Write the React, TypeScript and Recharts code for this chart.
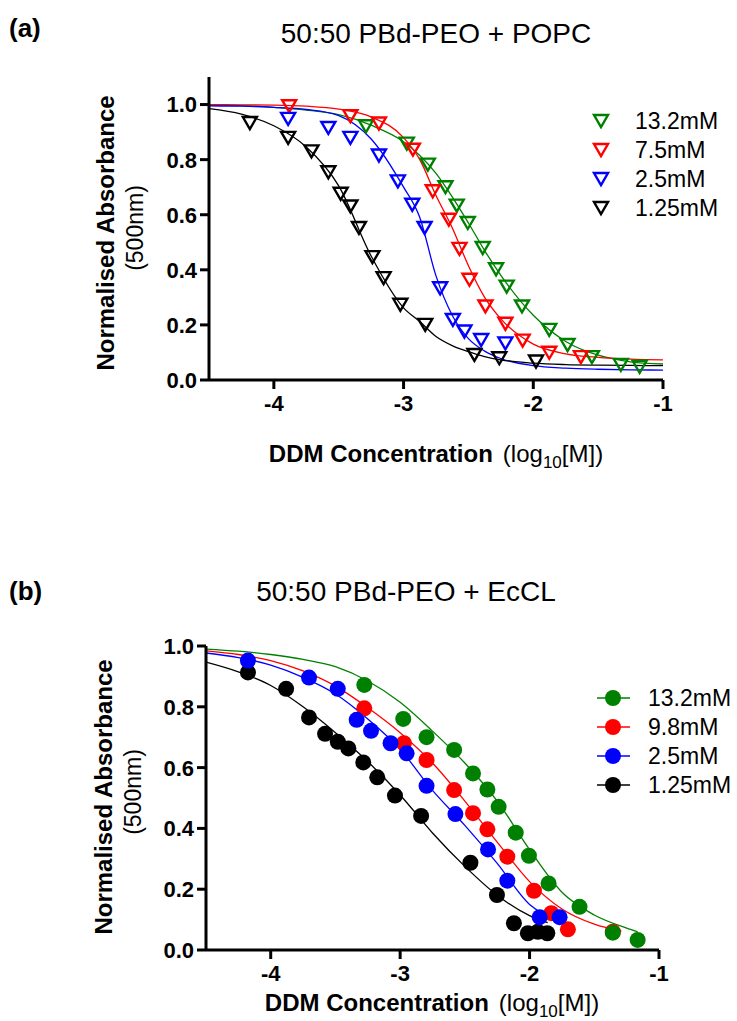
import React from "react";
import { ComposedChart, Line, Scatter, XAxis, YAxis } from "recharts";

const FONT = "'Liberation Sans', Arial, Helvetica, sans-serif";

const GREEN = "#008000";
const RED = "#ff0000";
const BLUE = "#0000ff";
const BLACK = "#000000";

const xTicks = [-4, -3, -2, -1];
const yTicks = [0, 0.2, 0.4, 0.6, 0.8, 1.0];

// ---- panel (a): 50:50 PBd-PEO + POPC, x = log10[DDM] ----
const popc132X = [-3.29, -2.975, -2.813, -2.677, -2.59, -2.505, -2.39, -2.287, -2.205, -2.087, -1.877, -1.736, -1.548, -1.325, -1.18];
const popc132Y = [0.921, 0.858, 0.782, 0.7, 0.633, 0.57, 0.479, 0.402, 0.339, 0.267, 0.182, 0.127, 0.083, 0.055, 0.048];
const popc75X = [-3.882, -3.41, -3.19, -2.928, -2.775, -2.651, -2.569, -2.492, -2.369, -2.215, -2.082, -1.877, -1.633];
const popc75Y = [0.994, 0.958, 0.931, 0.836, 0.685, 0.582, 0.476, 0.364, 0.267, 0.204, 0.143, 0.099, 0.083];
const popc25X = [-3.89, -3.58, -3.41, -3.19, -3.044, -2.933, -2.838, -2.718, -2.62, -2.531, -2.402, -2.215];
const popc25Y = [0.948, 0.915, 0.879, 0.815, 0.721, 0.636, 0.552, 0.333, 0.218, 0.176, 0.145, 0.133];
const popc125X = [-4.185, -3.89, -3.71, -3.58, -3.485, -3.41, -3.344, -3.24, -3.154, -3.025, -2.833, -2.454, -2.262, -1.979];
const popc125Y = [0.933, 0.879, 0.83, 0.754, 0.676, 0.63, 0.552, 0.446, 0.37, 0.273, 0.2, 0.091, 0.079, 0.067];

// fitted curves
const fitAX = [-4.5, -4.25, -4, -3.75, -3.5, -3.25, -3, -2.875, -2.75, -2.625, -2.5, -2.375, -2.25, -2, -1.75, -1.5, -1.25, -1];
const fitA132 = [0.998, 0.996, 0.99, 0.98, 0.963, 0.925, 0.865, 0.815, 0.75, 0.665, 0.57, 0.47, 0.38, 0.235, 0.14, 0.09, 0.066, 0.058];
const fitA75 = [1.0, 0.999, 0.998, 0.994, 0.983, 0.955, 0.88, 0.8, 0.67, 0.553, 0.415, 0.3, 0.222, 0.13, 0.095, 0.082, 0.076, 0.073];
const fitA25 = [0.995, 0.994, 0.99, 0.982, 0.96, 0.875, 0.7, 0.59, 0.378, 0.235, 0.15, 0.105, 0.078, 0.052, 0.043, 0.039, 0.037, 0.036];
const fitA125 = [0.985, 0.965, 0.923, 0.846, 0.705, 0.45, 0.262, 0.212, 0.158, 0.125, 0.103, 0.085, 0.073, 0.061, 0.056, 0.054, 0.053, 0.052];

// ---- panel (b): 50:50 PBd-PEO + EcCL ----
const eccl132X = [-3.277, -2.976, -2.796, -2.583, -2.437, -2.326, -2.239, -2.107, -2.005, -1.853, -1.614, -1.357, -1.165];
const eccl132Y = [0.872, 0.76, 0.7, 0.658, 0.581, 0.528, 0.471, 0.386, 0.31, 0.219, 0.142, 0.057, 0.033];
const eccl98X = [-3.277, -2.971, -2.796, -2.583, -2.437, -2.326, -2.172, -1.966, -1.832, -1.704, -1.357];
const eccl98Y = [0.795, 0.68, 0.625, 0.526, 0.45, 0.397, 0.307, 0.195, 0.121, 0.068, 0.06];
const eccl25X = [-4.176, -3.704, -3.482, -3.336, -3.225, -3.074, -2.95, -2.796, -2.573, -2.321, -2.172, -1.922, -1.768];
const eccl25Y = [0.952, 0.896, 0.859, 0.757, 0.721, 0.68, 0.647, 0.54, 0.447, 0.331, 0.228, 0.108, 0.108];
const eccl125X = [-4.176, -3.881, -3.704, -3.58, -3.482, -3.4, -3.285, -3.177, -3.04, -2.838, -2.457, -2.252, -2.121, -2.013, -1.936, -1.863];
const eccl125Y = [0.913, 0.859, 0.765, 0.711, 0.685, 0.663, 0.617, 0.568, 0.508, 0.441, 0.287, 0.181, 0.088, 0.055, 0.06, 0.055];

const fitB132X = [-4.5, -4.25, -4, -3.75, -3.5, -3.25, -3, -2.75, -2.5, -2.25, -2, -1.75, -1.5, -1.25, -1.165];
const fitB132 = [0.99, 0.983, 0.972, 0.956, 0.932, 0.885, 0.815, 0.72, 0.615, 0.49, 0.33, 0.19, 0.115, 0.072, 0.06];
const fitB98X = [-4.5, -4.25, -4, -3.75, -3.5, -3.25, -3, -2.75, -2.5, -2.25, -2, -1.75, -1.5, -1.29];
const fitB98 = [0.984, 0.972, 0.952, 0.918, 0.868, 0.797, 0.715, 0.615, 0.49, 0.355, 0.225, 0.135, 0.085, 0.062];
const fitB25X = [-4.5, -4.25, -4, -3.75, -3.5, -3.25, -3, -2.75, -2.5, -2.25, -2, -1.74];
const fitB25 = [0.977, 0.962, 0.937, 0.897, 0.842, 0.76, 0.66, 0.525, 0.41, 0.285, 0.15, 0.095];
const fitB125X = [-4.5, -4.25, -4, -3.75, -3.5, -3.25, -3, -2.75, -2.5, -2.25, -2, -1.86];
const fitB125 = [0.947, 0.915, 0.87, 0.8, 0.715, 0.62, 0.51, 0.385, 0.275, 0.18, 0.113, 0.09];

const legendA = ["13.2mM", "7.5mM", "2.5mM", "1.25mM"];
const legendB = ["13.2mM", "9.8mM", "2.5mM", "1.25mM"];

const zip = (xs: number[], ys: number[]) => xs.map((x, i) => ({ x, y: ys[i] }));

const triDown = (color: string) => (p: any) => {
  if (p.cx == null || p.cy == null) return <g />;
  const w = 14;
  const h = 12;
  const { cx, cy } = p;
  return (
    <path
      d={`M${cx - w / 2},${cy - h / 2}L${cx + w / 2},${cy - h / 2}L${cx},${cy + h / 2}Z`}
      fill="none"
      stroke={color}
      strokeWidth={2.4}
    />
  );
};

const dotShape = (color: string) => (p: any) => {
  if (p.cx == null || p.cy == null) return <g />;
  return <circle cx={p.cx} cy={p.cy} r={8} fill={color} />;
};

const XTick = (p: any) => (
  <text x={p.x} y={p.y} dy="0.71em" textAnchor="middle" fontFamily={FONT} fontWeight={700} fontSize={22} fill="#000">
    {String(p.payload.value)}
  </text>
);

const YTick = (p: any) => (
  <text x={p.x} y={p.y} dy="0.36em" textAnchor="end" fontFamily={FONT} fontWeight={700} fontSize={22} fill="#000">
    {Number(p.payload.value).toFixed(1)}
  </text>
);

const axisStyle = { stroke: "#000", strokeWidth: 3 };

const curve = (data: { x: number; y: number }[], color: string, key: string) => (
  <Line
    key={key}
    data={data}
    dataKey="y"
    type="monotone"
    stroke={color}
    strokeWidth={1.3}
    dot={false}
    activeDot={false}
    isAnimationActive={false}
  />
);

function PanelA() {
  return (
    <ComposedChart width={737} height={470} margin={{ top: 77, right: 74, bottom: 50, left: 149 }}>
      <XAxis
        type="number"
        dataKey="x"
        domain={[-4.5, -1]}
        ticks={xTicks}
        allowDataOverflow
        height={40}
        axisLine={axisStyle}
        tickLine={axisStyle}
        tickSize={9}
        tickMargin={6}
        tick={<XTick />}
      />
      <YAxis
        type="number"
        dataKey="y"
        domain={[0, 1.1]}
        ticks={yTicks}
        allowDataOverflow
        width={60}
        axisLine={axisStyle}
        tickLine={axisStyle}
        tickSize={9}
        tickMargin={3}
        tick={<YTick />}
      />
      {curve(zip(fitAX, fitA132), GREEN, "c132")}
      {curve(zip(fitAX, fitA75), RED, "c75")}
      {curve(zip(fitAX, fitA25), BLUE, "c25")}
      {curve(zip(fitAX, fitA125), BLACK, "c125")}
      <Scatter data={zip(popc132X, popc132Y)} dataKey="y" shape={triDown(GREEN)} isAnimationActive={false} />
      <Scatter data={zip(popc75X, popc75Y)} dataKey="y" shape={triDown(RED)} isAnimationActive={false} />
      <Scatter data={zip(popc25X, popc25Y)} dataKey="y" shape={triDown(BLUE)} isAnimationActive={false} />
      <Scatter data={zip(popc125X, popc125Y)} dataKey="y" shape={triDown(BLACK)} isAnimationActive={false} />
    </ComposedChart>
  );
}

function PanelB() {
  return (
    <ComposedChart width={737} height={481} margin={{ top: 106, right: 78, bottom: 31, left: 146 }}>
      <XAxis
        type="number"
        dataKey="x"
        domain={[-4.5, -1]}
        ticks={xTicks}
        allowDataOverflow
        height={40}
        axisLine={axisStyle}
        tickLine={axisStyle}
        tickSize={9}
        tickMargin={6}
        tick={<XTick />}
      />
      <YAxis
        type="number"
        dataKey="y"
        domain={[0, 1]}
        ticks={yTicks}
        allowDataOverflow
        width={60}
        axisLine={axisStyle}
        tickLine={axisStyle}
        tickSize={9}
        tickMargin={3}
        tick={<YTick />}
      />
      {curve(zip(fitB125X, fitB125), BLACK, "b125")}
      {curve(zip(fitB98X, fitB98), RED, "b98")}
      {curve(zip(fitB25X, fitB25), BLUE, "b25")}
      {curve(zip(fitB132X, fitB132), GREEN, "b132")}
      <Scatter data={zip(eccl125X, eccl125Y)} dataKey="y" shape={dotShape(BLACK)} isAnimationActive={false} />
      <Scatter data={zip(eccl98X, eccl98Y)} dataKey="y" shape={dotShape(RED)} isAnimationActive={false} />
      <Scatter data={zip(eccl25X, eccl25Y)} dataKey="y" shape={dotShape(BLUE)} isAnimationActive={false} />
      <Scatter data={zip(eccl132X, eccl132Y)} dataKey="y" shape={dotShape(GREEN)} isAnimationActive={false} />
    </ComposedChart>
  );
}

// texts drawn over the two charts
function Labels() {
  const colors = [GREEN, RED, BLUE, BLACK];
  const rowsA = [121, 150, 179, 208];
  const rowsB = [698, 727, 756, 785];
  const xLabel = (cx: number, y: number) => (
    <text x={cx} y={y} textAnchor="middle" fontFamily={FONT} fontSize={24} fill="#000">
      <tspan fontWeight={700}>DDM Concentration</tspan>
      <tspan dx={10}>(log</tspan>
      <tspan fontSize={17} dy={6}>10</tspan>
      <tspan dy={-6}>[M])</tspan>
    </text>
  );
  const yLabel = (cx: number, cy: number) => (
    <g fontFamily={FONT} fill="#000">
      <text x={cx} y={cy} transform={`rotate(-90 ${cx} ${cy})`} textAnchor="middle" fontWeight={700} fontSize={24}>
        Normalised Absorbance
      </text>
      <text x={cx + 29} y={cy - 5} transform={`rotate(-90 ${cx + 29} ${cy - 5})`} textAnchor="middle" fontSize={23}>
        (500nm)
      </text>
    </g>
  );
  return (
    <svg width={737} height={1021} style={{ position: "absolute", left: 0, top: 0, pointerEvents: "none" }}>
      <g fontFamily={FONT} fill="#000">
        <text x={9} y={37} fontWeight={700} fontSize={26}>(a)</text>
        <text x={436} y={43} textAnchor="middle" fontSize={28}>50:50 PBd-PEO + POPC</text>
        <text x={9} y={600} fontWeight={700} fontSize={26}>(b)</text>
        <text x={406} y={601} textAnchor="middle" fontSize={28}>50:50 PBd-PEO + EcCL</text>
      </g>
      {yLabel(114, 233)}
      {yLabel(112, 797)}
      {xLabel(436, 462)}
      {xLabel(432, 1011)}
      {legendA.map((name, i) => (
        <g key={name}>
          {triDown(colors[i])({ cx: 601, cy: rowsA[i] })}
          <text x={635} y={rowsA[i] + 8} fontFamily={FONT} fontSize={23} fill="#000">{name}</text>
        </g>
      ))}
      {legendB.map((name, i) => (
        <g key={name}>
          <line x1={597} x2={630} y1={rowsB[i]} y2={rowsB[i]} stroke={colors[i]} strokeWidth={1.3} />
          {dotShape(colors[i])({ cx: 613, cy: rowsB[i] })}
          <text x={648} y={rowsB[i] + 8} fontFamily={FONT} fontSize={23} fill="#000">{name}</text>
        </g>
      ))}
    </svg>
  );
}

export default function App() {
  return (
    <div style={{ position: "absolute", left: 0, top: 0, width: 737, height: 1021, background: "#fff" }}>
      <div style={{ position: "absolute", left: 0, top: 0 }}>
        <PanelA />
      </div>
      <div style={{ position: "absolute", left: 0, top: 540 }}>
        <PanelB />
      </div>
      <Labels />
    </div>
  );
}
